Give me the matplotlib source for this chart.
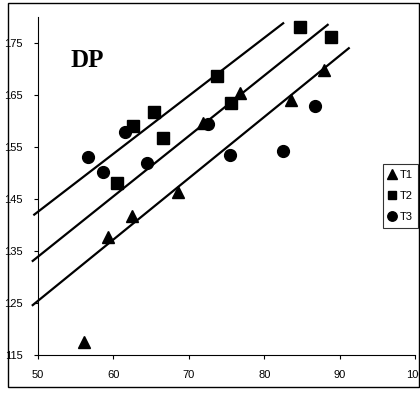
import matplotlib
matplotlib.use("Agg")
import matplotlib.pyplot as plt
from matplotlib.patches import Rectangle

# ---------------------------------------------------------------- data
t1_x = [56.1, 59.3, 62.5, 68.5, 71.9, 76.8, 83.6, 87.9]
t1_y = [117.5, 137.7, 141.7, 146.3, 159.6, 165.4, 164.0, 169.8]

t2_x = [60.5, 62.6, 65.4, 66.6, 73.7, 75.6, 84.7, 88.9]
t2_y = [148.1, 159.0, 161.7, 156.7, 168.7, 163.5, 178.1, 176.2]

t3_x = [56.6, 58.6, 61.5, 64.4, 72.5, 75.4, 82.5, 86.7]
t3_y = [153.1, 150.2, 157.9, 151.9, 159.4, 153.5, 154.2, 162.9]

# three parallel reference lines: (x0, y0) -> (x1, y1)
line_x0 = [49.5, 49.3, 49.3]
line_y0 = [142.0, 133.1, 124.6]
line_x1 = [82.5, 88.4, 91.2]
line_y1 = [178.8, 178.5, 174.0]

x_ticks = [50, 60, 70, 80, 90, 100]
y_ticks = [115, 125, 135, 145, 155, 165, 175]

# ---------------------------------------------------------------- plot
plt.rcParams["font.family"] = ["Liberation Sans", "DejaVu Sans"]

fig = plt.figure(figsize=(4.2, 3.96), dpi=100)
ax = fig.add_axes([0.0905, 0.1035, 0.898, 0.8535])

for x0, y0, x1, y1 in zip(line_x0, line_y0, line_x1, line_y1):
    ax.plot([x0, x1], [y0, y1], color="black", lw=1.6, clip_on=False, zorder=2)

ax.plot(t1_x, t1_y, "^", color="black", ms=9, label="T1", clip_on=False, zorder=3)
ax.plot(t2_x, t2_y, "s", color="black", ms=8, label="T2", clip_on=False, zorder=3)
ax.plot(t3_x, t3_y, "o", color="black", ms=8.5, label="T3", clip_on=False, zorder=3)

ax.set_xlim(50, 100)
ax.set_ylim(115, 180)
ax.set_xticks(x_ticks)
ax.set_yticks(y_ticks)
ax.tick_params(labelsize=8, direction="out", length=3, width=0.8, pad=8)
ax.spines["top"].set_visible(False)
ax.spines["right"].set_visible(False)

ax.text(54.3, 171.7, "DP", family="Liberation Serif", fontweight="bold",
        fontsize=18, va="center", ha="left")

leg = ax.legend(loc="upper left", bbox_to_anchor=(0.912, 0.585),
                bbox_transform=fig.transFigure, fontsize=8, frameon=True,
                fancybox=False, edgecolor="black", handlelength=0.6,
                handletextpad=0.4, borderpad=0.5, labelspacing=1.0,
                markerscale=0.8, borderaxespad=0)
leg.get_frame().set_linewidth(0.8)

# outer chart-area frame
fig.patches.append(Rectangle((0.019, 0.022), 0.978, 0.97, transform=fig.transFigure,
                             fill=False, edgecolor="black", lw=1.0))

fig.savefig("out.png", dpi=100)
